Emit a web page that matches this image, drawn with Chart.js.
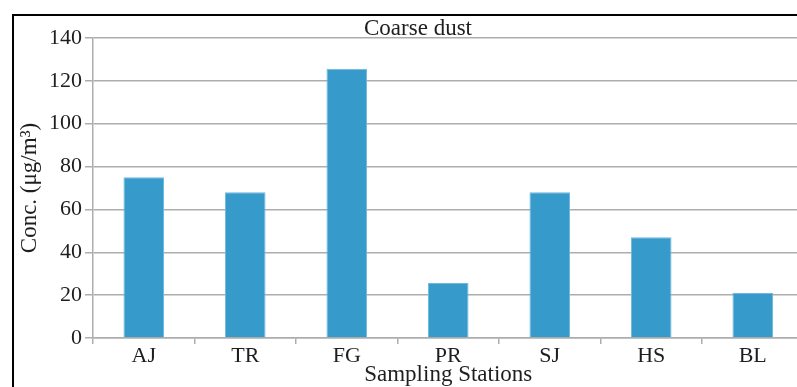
<!DOCTYPE html>
<html>
<head>
<meta charset="utf-8">
<script src="https://cdn.jsdelivr.net/npm/chart.js@4"></script>
<style>
  html, body { margin: 0; padding: 0; background: #fff; overflow: hidden; }
  body { width: 797px; height: 387px; position: relative; }
  #frame {
    position: absolute; left: 12px; top: 14px;
    width: 830px; height: 400px;
    border-top: 2px solid #000;
    border-left: 2px solid #000;
  }
  #wrap { position: absolute; left: 0; top: 0; width: 820px; height: 380px; }
</style>
</head>
<body>
<div id="frame">
  <div id="wrap"><canvas id="barChart"></canvas></div>
</div>
<script>
// DATA
const stations = ["AJ", "TR", "FG", "PR", "SJ", "HS", "BL"];
const coarseDust = [75, 68, 125.7, 25.7, 68, 47, 21];
const yTicks = [0, 20, 40, 60, 80, 100, 120, 140];

const serif = "'Liberation Serif', 'Times New Roman', serif";
const gridGray = "#adadad";

// BAR CHART
const barCtx = document.getElementById("barChart");

new Chart(barCtx, {
  type: "bar",
  data: {
    labels: stations,
    datasets: [{
      label: "Coarse dust",
      data: coarseDust,
      backgroundColor: "#369bcb",
      borderColor: "#72b8dc",
      borderWidth: 1,
      categoryPercentage: 1,
      barPercentage: 0.4
    }]
  },
  options: {
    responsive: true,
    maintainAspectRatio: false,
    animation: false,
    layout: { padding: { left: 0, right: 12, top: 0, bottom: 0 } },
    plugins: {
      legend: { display: false },
      tooltip: { enabled: false },
      title: {
        display: true,
        text: "Coarse dust",
        color: "#1e1e1e",
        font: { family: serif, size: 23, weight: "normal", lineHeight: "22px" },
        padding: { top: 2, bottom: -2 }
      }
    },
    scales: {
      x: {
        grid: {
          display: true,
          drawOnChartArea: false,
          drawTicks: true,
          tickLength: 6,
          color: gridGray,
          lineWidth: 1.5,
          offset: true
        },
        border: { display: true, color: gridGray, width: 1.5 },
        ticks: {
          color: "#1e1e1e",
          padding: 1,
          font: { family: serif, size: 22, lineHeight: 1 }
        },
        title: {
          display: true,
          text: "Sampling Stations",
          color: "#1e1e1e",
          font: { family: serif, size: 23, lineHeight: 1 },
          padding: { top: 0, bottom: 9.5 }
        },
        afterFit: scale => { scale.height = 58; }
      },
      y: {
        min: 0,
        max: 140,
        afterBuildTicks: scale => {
          scale.ticks = yTicks.map(v => ({ value: v }));
        },
        grid: {
          color: gridGray,
          lineWidth: 1.5,
          tickLength: 8
        },
        border: { display: true, color: gridGray, width: 1.5 },
        ticks: {
          color: "#1e1e1e",
          padding: 3,
          font: { family: serif, size: 22, lineHeight: 1 }
        },
        title: {
          display: true,
          text: "Conc. (μg/m³)",
          color: "#1e1e1e",
          font: { family: serif, size: 23, lineHeight: 1 },
          padding: { top: 4.5, bottom: 0 }
        },
        afterFit: scale => { scale.width = 79; }
      },
      y2: {
        position: "right",
        display: true,
        grid: { display: false },
        border: { display: false },
        ticks: { display: false },
        afterFit: scale => { scale.width = 18.5; }
      }
    }
  }
});
</script>
</body>
</html>
